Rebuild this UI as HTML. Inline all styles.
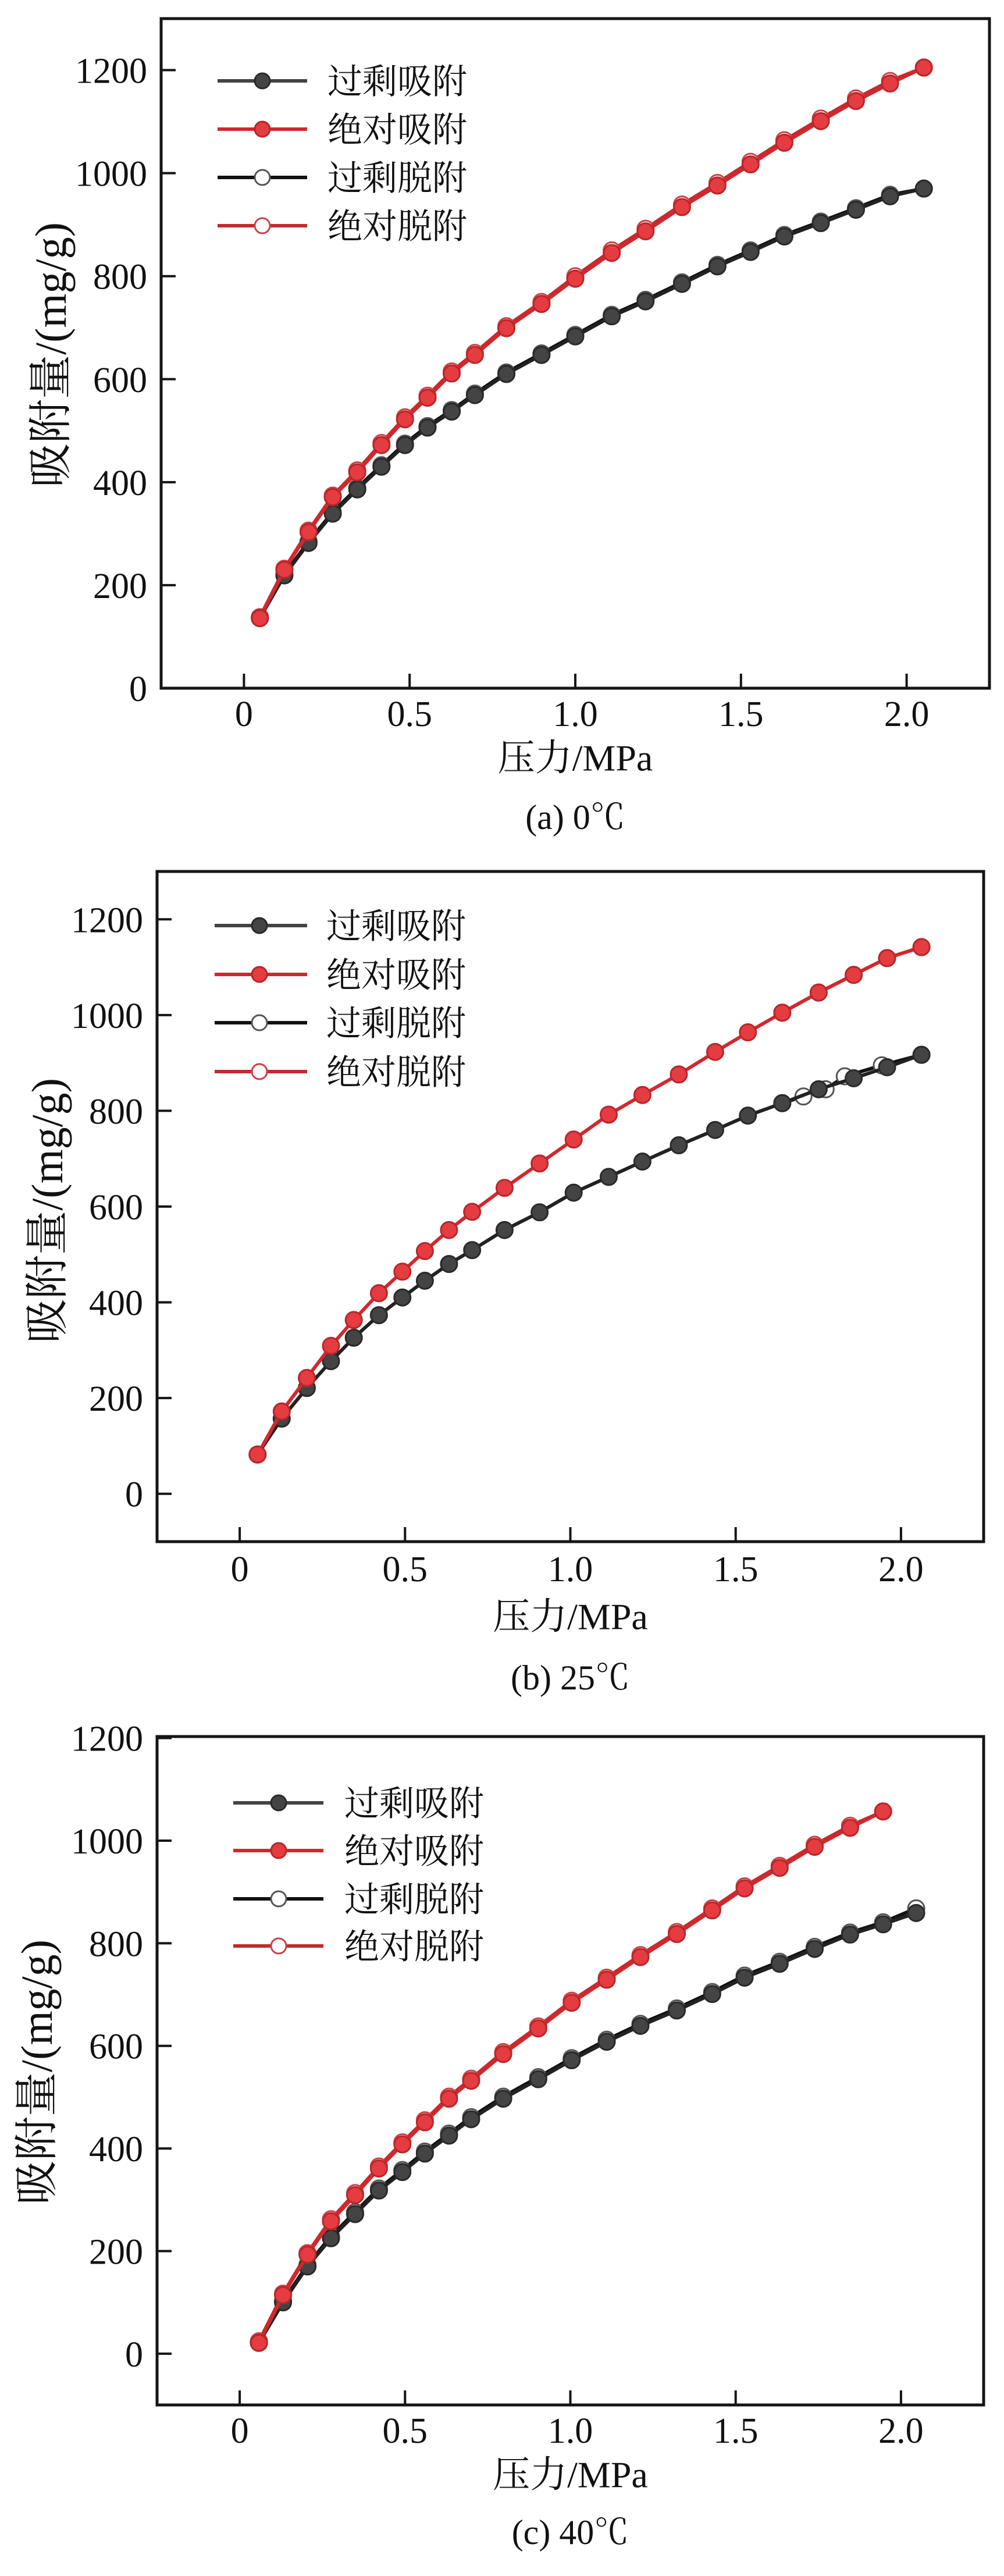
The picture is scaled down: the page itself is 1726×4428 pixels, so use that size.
<!DOCTYPE html>
<html><head><meta charset="utf-8">
<style>
html,body{margin:0;padding:0;background:#fff;}
svg{display:block;}
text{font-family:"Liberation Serif","Noto Serif CJK SC",serif;fill:#111;}
</style></head>
<body>
<svg id="fig" width="1726" height="4428" viewBox="0 0 1726 4428" xmlns="http://www.w3.org/2000/svg"></svg>
<script>
// ---- data ----
const legendLabels = ["过剩吸附","绝对吸附","过剩脱附","绝对脱附"];
const xTicks = [0,0.5,1.0,1.5,2.0];
const xTickLabels = ["0","0.5","1.0","1.5","2.0"];
const yTicksA = [0,200,400,600,800,1000,1200];
const yTicksB = [0,200,400,600,800,1000,1200];
const yTicksC = [0,200,400,600,800,1000,1200];

const pA = [0.048,0.122,0.195,0.268,0.342,0.415,0.486,0.554,0.627,0.697,0.792,0.898,1.0,1.110,1.212,1.322,1.429,1.529,1.631,1.741,1.847,1.950,2.052];
const absAdsA = [136,230,303,371,419,472,522,564,611,647,699,746,795,845,887,934,976,1017,1059,1101,1140,1174,1205];
const excAdsA = [136,219,282,339,386,430,472,506,537,569,610,647,683,722,751,785,819,847,877,903,929,955,970];
const absDesA = [138,232,306,374,423,476,526,568,615,651,703,750,800,850,892,939,981,1022,1064,1106,1145,1179,1205];
const excDesA = [138,221,285,342,389,433,475,509,540,572,613,650,686,725,754,788,822,850,880,906,932,958,970];

const pB = [0.054,0.127,0.203,0.276,0.345,0.421,0.492,0.560,0.633,0.703,0.801,0.907,1.010,1.116,1.218,1.328,1.438,1.537,1.641,1.751,1.857,1.958,2.062];
const absAdsB = [82,172,242,309,363,419,464,507,551,589,639,690,740,792,833,876,923,964,1005,1047,1084,1119,1142];
const excAdsB = [82,157,221,277,326,373,410,445,480,509,551,588,629,662,694,728,760,790,816,845,868,891,917];
const pDesB = [2.062,1.942,1.830,1.772,1.705,1.641];
const excDesB = [917,895,872,845,830,816];
const absDesB = [1142,1119,1084,1047,1005];
const pAbsDesB = [2.062,1.958,1.857,1.751,1.641];

const pC = [0.058,0.131,0.205,0.276,0.349,0.421,0.492,0.560,0.633,0.700,0.797,0.903,1.004,1.110,1.212,1.322,1.429,1.527,1.633,1.739,1.846,1.946,2.046];
const absAdsC = [21,114,193,258,309,361,408,451,497,532,584,634,684,729,773,818,864,907,947,988,1025,1057];
const excAdsC = [21,100,170,225,272,318,354,390,425,457,497,535,572,608,639,669,701,733,760,789,817,837,859];
const absDesC = [24,117,196,262,313,365,412,455,501,536,588,638,688,733,777,822,868,911,951,992,1029,1057];
const excDesC = [24,103,173,229,276,322,358,394,429,461,501,539,576,612,643,673,705,737,764,793,821,841,868];

// ---- drawing ----
const NS="http://www.w3.org/2000/svg";
const svg=document.getElementById('fig');
function mk(tag,attrs,parent){const e=document.createElementNS(NS,tag);for(const k in attrs)e.setAttribute(k,attrs[k]);(parent||svg).appendChild(e);return e;}

function panel(cfg){
  const g=mk('g',{});
  
  
  const sx=v=>cfg.L+(v-cfg.x0)/(cfg.x1-cfg.x0)*(cfg.R-cfg.L);
  const sy=v=>cfg.B-(v-cfg.y0)/(cfg.y1-cfg.y0)*(cfg.B-cfg.T);
  const fr=mk('rect',{x:cfg.L,y:cfg.T,width:cfg.R-cfg.L,height:cfg.B-cfg.T,fill:'none',stroke:'#151515','stroke-width':5},g);
  
  
  xTicks.forEach((t,i)=>{
    const x=sx(t);
    const tk=mk('line',{x1:x,x2:x,y1:cfg.B,y2:cfg.B-25,stroke:'#151515','stroke-width':4},g);
    
    
    const tl=mk('text',{x:x,y:cfg.xLabY,'font-size':62,'text-anchor':'middle','dominant-baseline':'central'},g);
    tl.textContent=xTickLabels[i];
    
    
  });
  cfg.yTicks.forEach(t=>{
    const y=sy(t);
    const tk=mk('line',{x1:cfg.L,x2:cfg.L+25,y1:y,y2:y,stroke:'#151515','stroke-width':4},g);
    
    
    const tl=mk('text',{x:cfg.L-24,y:y+2,'font-size':62,'text-anchor':'end','dominant-baseline':'central'},g);
    tl.textContent=String(t);
    
    
  });
  const xt=mk('text',{x:(cfg.L+cfg.R)/2,y:cfg.xTitleY,'font-size':64,'text-anchor':'middle','dominant-baseline':'central'},g);
  xt.textContent='压力/MPa';
  
  
  const yt=mk('text',{x:0,y:0,'font-size':76,'text-anchor':'middle','dominant-baseline':'central',transform:`translate(${cfg.yTitleX},${cfg.yTitleY}) rotate(-90)`},g);
  yt.textContent='吸附量/(mg/g)';
  
  
  const cap=mk('text',{x:(cfg.L+cfg.R)/2,y:cfg.capY,'font-size':60,'text-anchor':'middle','dominant-baseline':'central'},g);
  cap.textContent=cfg.caption;
  
  

  function series(xs,ys,line,fill,stroke,name){
    const n=Math.min(xs.length,ys.length);
    let d='';
    for(let i=0;i<n;i++)d+=(i?'L':'M')+sx(xs[i]).toFixed(1)+' '+sy(ys[i]).toFixed(1);
    const sg=mk('g',{},g);
    
    
    mk('path',{d:d,fill:'none',stroke:line,'stroke-width':6},sg);
    for(let i=0;i<n;i++){
      const c=mk('circle',{cx:sx(xs[i]),cy:sy(ys[i]),r:14,fill:fill,stroke:stroke,'stroke-width':3},sg);
      
      
    }
  }
  const D=cfg.data;
  series(D.pd1,D.excDes,'#111','#fff','#555','excess-desorption');
  series(D.pd2,D.absDes,'#c42a2e','#fff','#d04045','absolute-desorption');
  series(D.p,D.excAds,'#222','#444','#2a2a2a','excess-adsorption');
  series(D.p,D.absAds,'#d1282e','#e43c40','#b8262a','absolute-adsorption');

  const lg=mk('g',{},g);
  
  
  const sty=[['#444','#444','#2a2a2a'],['#d1282e','#e43c40','#b8262a'],['#111','#fff','#555'],['#c42a2e','#fff','#d04045']];
  legendLabels.forEach((lab,i)=>{
    const y=cfg.legY[i];
    const e=mk('g',{},lg);
    
    
    mk('line',{x1:cfg.legX1,x2:cfg.legX2,y1:y,y2:y,stroke:sty[i][0],'stroke-width':6},e);
    mk('circle',{cx:cfg.legM,cy:y,r:13,fill:sty[i][1],stroke:sty[i][2],'stroke-width':3},e);
    const t=mk('text',{x:cfg.legT,y:y+2,'font-size':60,'dominant-baseline':'central'},e);
    t.textContent=lab;
  });
}

panel({name:'panel-a-0C',L:277,R:1701,T:32,B:1183,x0:-0.25,x1:2.25,y0:0,y1:1300,yTicks:yTicksA,
  xLabY:1228,xTitleY:1303,capY:1405,yTitleX:88,yTitleY:610,caption:'(a) 0℃',
  legY:[139,222,305,388],legX1:374,legX2:528,legM:451,legT:563,
  data:{p:pA,absAds:absAdsA,excAds:excAdsA,pd1:pA,excDes:excDesA,pd2:pA,absDes:absDesA}});
panel({name:'panel-b-25C',L:270,R:1691,T:1498,B:2650,x0:-0.25,x1:2.25,y0:-100,y1:1300,yTicks:yTicksB,
  xLabY:2698,xTitleY:2779,capY:2884,yTitleX:82,yTitleY:2081,caption:'(b) 25℃',
  legY:[1591,1675,1758,1842],legX1:369,legX2:528,legM:446,legT:561,
  data:{p:pB,absAds:absAdsB,excAds:excAdsB,pd1:pDesB,excDes:excDesB,pd2:pAbsDesB,absDes:absDesB}});
panel({name:'panel-c-40C',L:270,R:1691,T:2985,B:4134,x0:-0.25,x1:2.25,y0:-100,y1:1203,yTicks:yTicksC,
  xLabY:4179,xTitleY:4254,capY:4353,yTitleX:64,yTitleY:3562,caption:'(c) 40℃',
  legY:[3099,3181,3264,3345],legX1:401,legX2:556,legM:479,legT:592,
  data:{p:pC,absAds:absAdsC,excAds:excAdsC,pd1:pC,excDes:excDesC,pd2:pC,absDes:absDesC}});
</script>
</body></html>
